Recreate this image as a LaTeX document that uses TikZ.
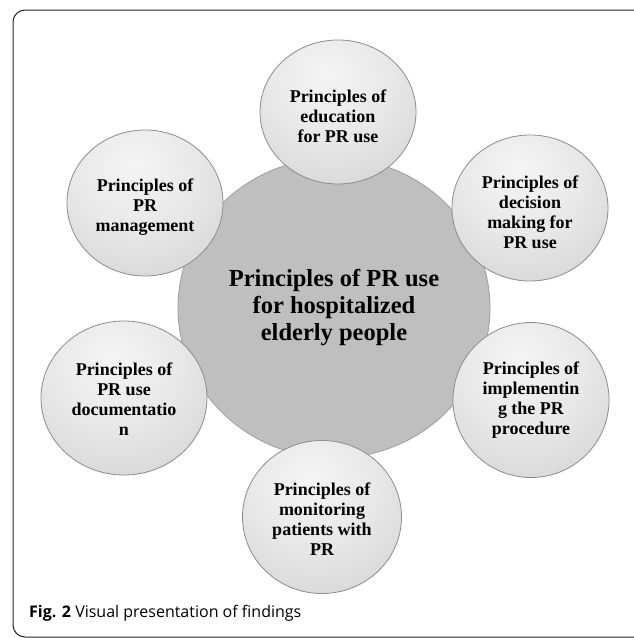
\documentclass[tikz,border=0pt]{standalone}
\usepackage{fontspec}
\setmainfont{Liberation Serif}
\newfontfamily\capfont{Open Sans}
\usetikzlibrary{shapes.geometric}
\pgfdeclareradialshading{satshade}{\pgfpoint{-4bp}{14bp}}{color(0bp)=(white!96!black); color(20bp)=(white!91!black); color(42bp)=(white!82!black); color(62bp)=(white!72!black); color(80bp)=(white!70!black)}
\begin{document}
\begin{tikzpicture}[x=1pt,y=-1pt,
  sat/.style={ellipse, draw=black!45, line width=0.8pt, shading=satshade,
    inner sep=0pt},
  sattext/.style={align=center, inner sep=0pt, font=\bfseries\fontsize{18}{20}\selectfont},
  hub/.style={ellipse, draw=black!38, line width=0.8pt, fill=black!25,
    inner sep=0pt, align=center, font=\bfseries\fontsize{24.5}{27}\selectfont},
  frame/.style={draw=black!85, line width=1pt, rounded corners=12pt},
  caption/.style={anchor=base west, inner sep=0pt, font=\capfont\fontsize{16}{19}\selectfont}]
\useasboundingbox (0,0) rectangle (634,638);
\clip (0,0) rectangle (634,638);
\fill[white] (0,0) rectangle (634,638);
\draw[frame] (13,10) rectangle (660,637);

\node[hub, minimum width=312pt, minimum height=300pt] (hub) at (334,308)
  {Principles of PR use\\for hospitalized\\elderly people};

\node[sat, minimum width=156pt, minimum height=144pt] (edu) at (338,112) {};
\node[sattext] (edut) at ([yshift=-4pt]edu.center) {Principles of\\education\\for PR use};
\node[sat, minimum width=156pt, minimum height=146pt] (dec) at (530,208) {};
\node[sattext] (dect) at ([yshift=-4pt]dec.center) {Principles of\\decision\\making for\\PR use};
\node[sat, minimum width=156pt, minimum height=146pt] (mgmt) at (145,203) {};
\node[sattext] (mgmtt) at ([yshift=-4pt]mgmt.center) {Principles of\\PR\\management};
\node[sat, minimum width=166pt, minimum height=154pt] (doc) at (124,398) {};
\node[sattext] (doct) at ([yshift=-1pt]doc.center) {Principles of\\PR use\\documentatio\\n};
\node[sat, minimum width=156pt, minimum height=155pt] (impl) at (531,400) {};
\node[sattext] (implt) at (impl.center) {Principles of\\implementin\\g the PR\\procedure};
\node[sat, minimum width=159pt, minimum height=153pt] (mon) at (322,517) {};
\node[sattext] (mont) at ([yshift=-2pt]mon.center) {Principles of\\monitoring\\patients with\\PR};

\node[caption] (cap) at (29,617) {\textbf{Fig. 2} Visual presentation of findings};
\end{tikzpicture}
\end{document}
